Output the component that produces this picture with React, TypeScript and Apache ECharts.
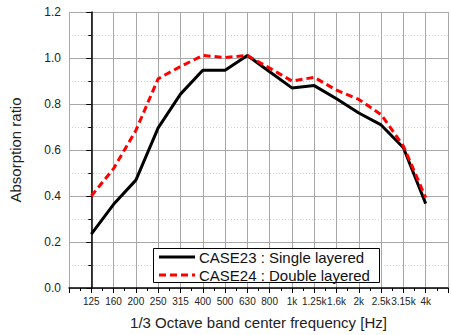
import React, { useEffect, useRef } from "react";
import * as echarts from "echarts";

const categories = ["125", "160", "200", "250", "315", "400", "500", "630", "800", "1k", "1.25k", "1.6k", "2k", "2.5k", "3.15k", "4k"];
const single = [0.234, 0.364, 0.469, 0.696, 0.843, 0.947, 0.947, 1.011, 0.94, 0.87, 0.88, 0.823, 0.761, 0.709, 0.61, 0.367];
const double = [0.40, 0.519, 0.685, 0.91, 0.963, 1.011, 1.002, 1.011, 0.956, 0.90, 0.916, 0.86, 0.82, 0.754, 0.617, 0.393];
const seriesNames = ["CASE23 : Single layered", "CASE24 : Double layered"];

const FONT = "'Liberation Sans', Arial, sans-serif";
const RED_DASH = [7, 4];

export default function App() {
  const ref = useRef<HTMLDivElement>(null);
  useEffect(() => {
    if (!ref.current) return;
    const chart = echarts.init(ref.current, undefined, { renderer: "svg" });
    chart.setOption({
      animation: false,
      backgroundColor: "#fff",
      textStyle: { fontFamily: FONT },
      grid: { left: 67, top: 12, width: 385, height: 277, containLabel: false },
      graphic: [
        {
          type: "group",
          left: 153,
          top: 248,
          z: 100,
          children: [
            { type: "rect", z: 100, shape: { x: 0.5, y: 0.5, width: 226, height: 34 }, style: { fill: "#fff", stroke: "#000", lineWidth: 1 } },
            { type: "line", z: 101, shape: { x1: 6, y1: 9, x2: 42, y2: 9 }, style: { stroke: "#000", lineWidth: 3 } },
            { type: "line", z: 101, shape: { x1: 6, y1: 27, x2: 42, y2: 27 }, style: { stroke: "#ff0000", lineWidth: 3, lineDash: RED_DASH } },
            { type: "text", z: 101, x: 46, y: 9.5, style: { text: seriesNames[0], fill: "#111", font: "15px " + FONT, verticalAlign: "middle" } },
            { type: "text", z: 101, x: 46, y: 27.5, style: { text: seriesNames[1], fill: "#111", font: "15px " + FONT, verticalAlign: "middle" } },
          ],
        },
      ],
      xAxis: {
        type: "value",
        min: -1,
        max: 16,
        interval: 1,
        name: "1/3 Octave band center frequency [Hz]",
        nameLocation: "middle",
        nameGap: 27,
        nameTextStyle: { fontSize: 15, color: "#222", fontFamily: FONT },
        axisLine: { show: true, lineStyle: { color: "#000", width: 1.5 } },
        axisTick: { show: true, inside: false, length: 5, lineStyle: { color: "#000" } },
        minorTick: { show: true, splitNumber: 2, length: 3, lineStyle: { color: "#000" } },
        axisLabel: {
          fontSize: 10,
          color: "#222",
          margin: 8,
          fontFamily: FONT,
          formatter: (v: number) => (v >= 0 && v < categories.length ? categories[v] : ""),
        },
        splitLine: { show: true, lineStyle: { color: "#a8a8a8", width: 1 } },
      },
      yAxis: {
        type: "value",
        min: 0,
        max: 1.2,
        interval: 0.2,
        name: "Absorption ratio",
        nameLocation: "middle",
        nameGap: 46,
        nameTextStyle: { fontSize: 15, color: "#222", fontFamily: FONT },
        axisLine: { show: true, lineStyle: { color: "#000", width: 1.5 } },
        axisTick: { show: true, inside: false, length: 5, lineStyle: { color: "#000" } },
        minorTick: { show: true, splitNumber: 2, length: 3, lineStyle: { color: "#000" } },
        axisLabel: {
          fontSize: 12,
          color: "#222",
          margin: 8,
          fontFamily: FONT,
          formatter: (v: number) => v.toFixed(1),
        },
        splitLine: { show: true, lineStyle: { color: "#a8a8a8", width: 1 } },
        minorSplitLine: { show: true, lineStyle: { color: "#d0d0d0", width: 1, type: [1, 2] } },
      },
      series: [
        {
          name: seriesNames[0],
          type: "line",
          symbol: "none",
          data: single.map((v, i) => [i, v]),
          lineStyle: { color: "#000", width: 3 },
          itemStyle: { color: "#000" },
          z: 3,
        },
        {
          name: seriesNames[1],
          type: "line",
          symbol: "none",
          data: double.map((v, i) => [i, v]),
          lineStyle: { color: "#ff0000", width: 3, type: RED_DASH },
          itemStyle: { color: "#ff0000" },
          z: 4,
        },
      ],
    });
    return () => chart.dispose();
  }, []);
  return <div ref={ref} style={{ position: "fixed", left: 0, top: 0, width: 451, height: 335 }} />;
}
